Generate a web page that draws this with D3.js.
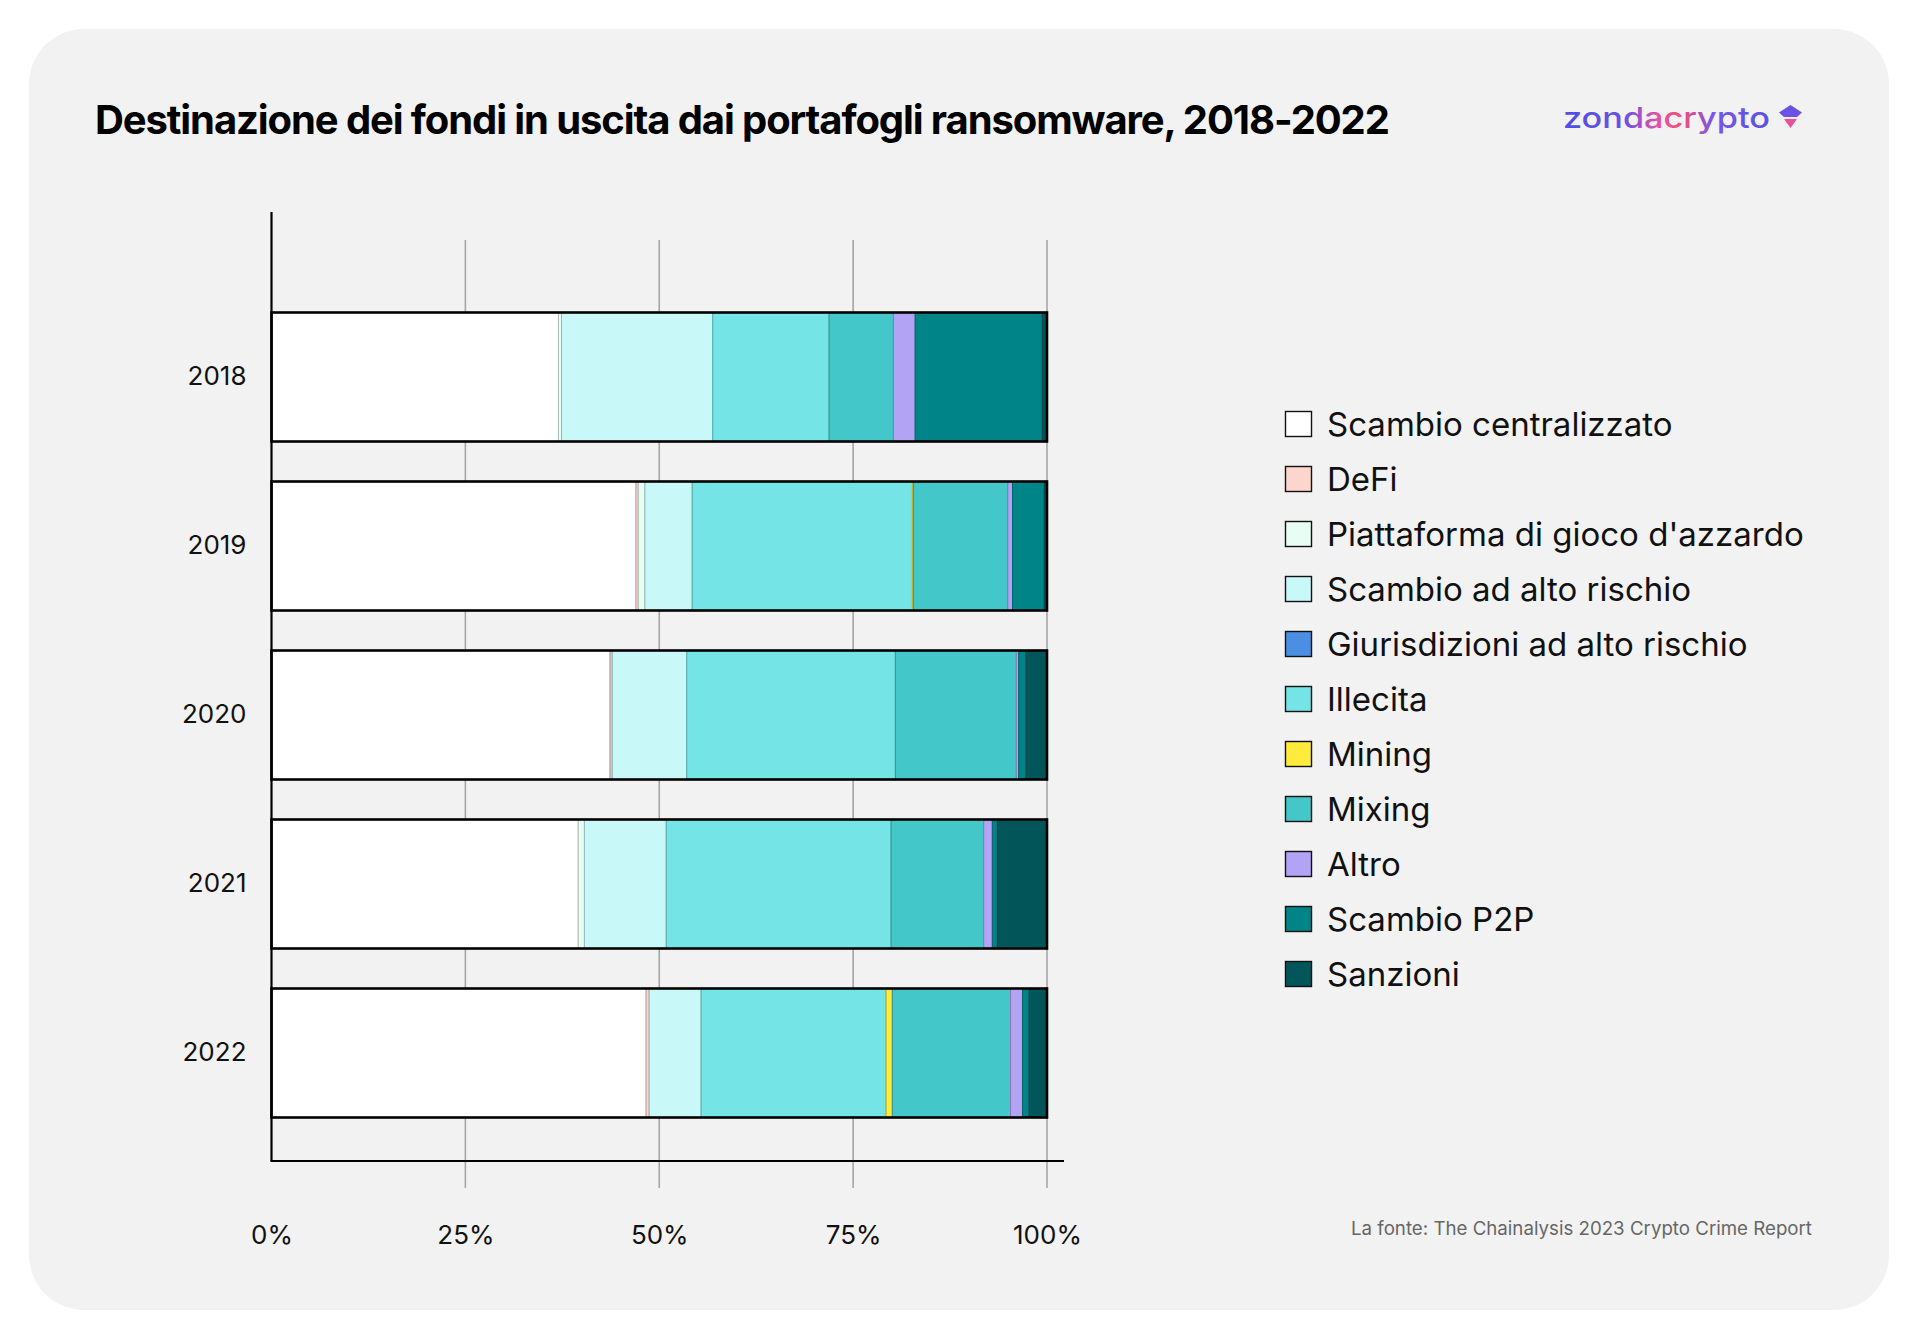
<!DOCTYPE html>
<html>
<head>
<meta charset="utf-8">
<script src="https://cdn.jsdelivr.net/npm/d3@7"></script>
<style>
  html, body { margin: 0; padding: 0; background: #ffffff; }
  svg { display: block; }
  text { font-family: Inter, "Noto Sans", sans-serif; }
</style>
</head>
<body>
<svg id="chart" width="1920" height="1338"></svg>
<script>
// ---- DATA ----
const years = ["2018", "2019", "2020", "2021", "2022"];
const categories = [
  "Scambio centralizzato",
  "DeFi",
  "Piattaforma di gioco d'azzardo",
  "Scambio ad alto rischio",
  "Giurisdizioni ad alto rischio",
  "Illecita",
  "Mining",
  "Mixing",
  "Altro",
  "Scambio P2P",
  "Sanzioni"
];
const centralizzato = [37.0, 47.0, 43.65, 39.55, 48.3];
const defi          = [0, 0.3, 0.15, 0, 0.4];
const gioco         = [0.4, 0.85, 0.15, 0.8, 0];
const altoRischio   = [19.5, 6.1, 9.6, 10.55, 6.7];
const giurisdizioni = [0, 0, 0, 0, 0];
const illecita      = [15.0, 28.4, 26.9, 29.0, 23.85];
const mining        = [0, 0.15, 0, 0, 0.8];
const mixing        = [8.3, 12.15, 15.6, 11.95, 15.25];
const altro         = [2.8, 0.6, 0.3, 1.1, 1.55];
const p2p           = [16.4, 4.1, 0.95, 0.65, 0.85];
const sanzioni      = [0.6, 0.35, 2.7, 6.4, 2.3];
const xTicks = [0, 25, 50, 75, 100];
const colors = ["#ffffff", "#fdd5cf", "#e8fdf4", "#c8f8f7", "#4a8fe2", "#74e4e6",
                "#ffeb3b", "#43c7c9", "#b3a3f5", "#008487", "#02565a"];

const seriesValues = [centralizzato, defi, gioco, altoRischio, giurisdizioni, illecita,
                      mining, mixing, altro, p2p, sanzioni];
const table = years.map((y, i) => {
  const row = { year: y };
  categories.forEach((c, k) => row[c] = seriesValues[k][i]);
  return row;
});

const svg = d3.select("#chart");

// Card background
svg.append("rect").attr("x", 29).attr("y", 29).attr("width", 1860).attr("height", 1281)
  .attr("rx", 55).attr("ry", 55).attr("fill", "#f2f2f2");

// Title
svg.append("text").attr("x", 95).attr("y", 134)
  .attr("font-size", 40).attr("font-weight", 700).attr("fill", "#000")
  .attr("letter-spacing", -1.1)
  .text("Destinazione dei fondi in uscita dai portafogli ransomware, 2018-2022");

// Logo
const defs = svg.append("defs");
const grad = defs.append("linearGradient").attr("id", "logoGrad")
  .attr("x1", "0%").attr("x2", "100%").attr("y1", "0%").attr("y2", "0%");
grad.append("stop").attr("offset", "0%").attr("stop-color", "#4f4fe0");
grad.append("stop").attr("offset", "30%").attr("stop-color", "#6a52e4");
grad.append("stop").attr("offset", "45%").attr("stop-color", "#e24fa8");
grad.append("stop").attr("offset", "58%").attr("stop-color", "#f0507a");
grad.append("stop").attr("offset", "72%").attr("stop-color", "#7a55e8");
grad.append("stop").attr("offset", "100%").attr("stop-color", "#5a50e6");
svg.append("text").attr("x", 1563).attr("y", 128)
  .attr("font-size", 29).attr("font-weight", 500)
  .attr("fill", "url(#logoGrad)")
  .attr("textLength", 207).attr("lengthAdjust", "spacingAndGlyphs")
  .text("zondacrypto");
svg.append("path")
  .attr("d", "M1790.5,105 L1802,112.5 L1797,117 L1784,117 L1779,112.5 Z")
  .attr("fill", "#6a52e4");
svg.append("path")
  .attr("d", "M1784,119 L1797,119 L1790.5,128 Z")
  .attr("fill", "#ea4f9a");

// Scales
const x = d3.scaleLinear().domain([0, 100]).range([271.5, 1047]);
const y = d3.scaleBand().domain(years).range([292.5, 1137.5])
  .paddingInner(40 / 169).paddingOuter(20 / 169);

// Gridlines
svg.append("g").selectAll("line").data(xTicks.filter(d => d > 0)).join("line")
  .attr("x1", d => x(d)).attr("x2", d => x(d))
  .attr("y1", 240).attr("y2", 1188)
  .attr("stroke", "#a6a6a6").attr("stroke-width", 1.6);

// Stacked bars
const stack = d3.stack().keys(categories);
const series = stack(table);
const gBars = svg.append("g");
series.forEach((s, k) => {
  const fill = colors[k];
  const strokeCol = d3.color(fill).darker(0.8).formatHex();
  gBars.append("g").selectAll("rect")
    .data(s.filter(d => d[1] - d[0] > 0))
    .join("rect")
    .attr("x", d => x(d[0]))
    .attr("width", d => x(d[1]) - x(d[0]))
    .attr("y", d => y(d.data.year))
    .attr("height", y.bandwidth())
    .attr("fill", fill)
    .attr("stroke", strokeCol)
    .attr("stroke-width", 1);
});
// Bar outlines
svg.append("g").selectAll("rect").data(table).join("rect")
  .attr("x", x(0)).attr("y", d => y(d.year))
  .attr("width", x(100) - x(0)).attr("height", y.bandwidth())
  .attr("fill", "none").attr("stroke", "#000").attr("stroke-width", 2.6);

// Axes lines
svg.append("line").attr("x1", x(0)).attr("x2", x(0)).attr("y1", 212).attr("y2", 1161)
  .attr("stroke", "#000").attr("stroke-width", 2.2);
svg.append("line").attr("x1", x(0) - 1).attr("x2", 1064).attr("y1", 1161).attr("y2", 1161)
  .attr("stroke", "#000").attr("stroke-width", 2.2);

// X axis labels
const xAxis = svg.append("g").attr("transform", "translate(0,1161)")
  .call(d3.axisBottom(x).tickValues(xTicks).tickFormat(d => d + "%").tickSize(0).tickPadding(65));
xAxis.select(".domain").remove();
xAxis.selectAll("text").attr("font-size", 26).attr("fill", "#111")
  .attr("font-family", "Inter, 'Noto Sans', sans-serif");

// Y axis labels
const yAxis = svg.append("g").attr("transform", `translate(${x(0)},0)`)
  .call(d3.axisLeft(y).tickSize(0).tickPadding(25));
yAxis.select(".domain").remove();
yAxis.selectAll("text").attr("font-size", 26).attr("fill", "#111")
  .attr("font-family", "Inter, 'Noto Sans', sans-serif");

// Legend
const legend = svg.append("g");
categories.forEach((c, i) => {
  const cy = 424 + i * 55;
  legend.append("rect").attr("x", 1285.5).attr("y", cy - 12.5)
    .attr("width", 26).attr("height", 25)
    .attr("fill", colors[i]).attr("stroke", "#111").attr("stroke-width", 1.4);
  legend.append("text").attr("x", 1327).attr("y", cy + 12)
    .attr("font-size", 33).attr("fill", "#111").attr("letter-spacing", 0)
    .text(c);
});

// Source
svg.append("text").attr("x", 1812).attr("y", 1235).attr("text-anchor", "end")
  .attr("font-size", 18.7).attr("fill", "#666")
  .text("La fonte: The Chainalysis 2023 Crypto Crime Report");
</script>
</body>
</html>
